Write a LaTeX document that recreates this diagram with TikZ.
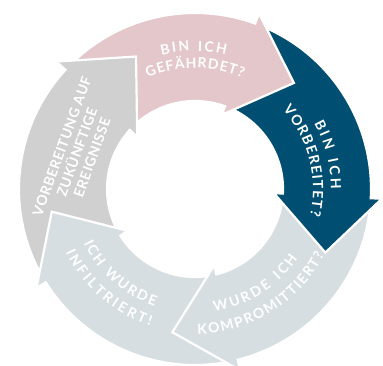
\documentclass[tikz,border=0pt]{standalone}
\usepackage{fontspec}
\usepackage{tikz}
\usetikzlibrary{decorations.text}
\newfontfamily\cyclefont[LetterSpace=4]{Lato}
\newcommand{\lblfont}{\cyclefont\bfseries\fontsize{14}{16}\selectfont}

\definecolor{riskpink}{HTML}{E3C7CB}
\definecolor{readyblue}{HTML}{004F73}
\definecolor{breachgrey}{HTML}{D7DEE1}
\definecolor{futuregrey}{HTML}{D0D0D0}

\begin{document}
\begin{tikzpicture}
  [
    x=1pt,y=1pt,
    segment/.style={
      draw=white,
      line width=2.2pt,
      line join=miter
    },
    arclabel/.style={
      decorate,
      decoration={text along path,text align=fit to path,text color=white}
    }
  ]
    \useasboundingbox (0,0) rectangle (383,366);
    \begin{scope}[shift={(195,177)}]
    % segments, drawn backwards round the ring
    \draw [segment,fill=futuregrey] (212:176pt) arc[start angle=212,end angle=137,radius=176pt] -- (137:187pt) -- (114:145pt) -- (137:79pt) -- (137:88pt) arc[start angle=137,end angle=212,radius=88pt] -- cycle;
    \draw [segment,fill=breachgrey] (-76:176pt) arc[start angle=-76,end angle=-148,radius=176pt] -- (-148:187pt) -- (-171:145pt) -- (-148:79pt) -- (-148:88pt) arc[start angle=-148,end angle=-76,radius=88pt] -- cycle;
    \draw [segment,fill=breachgrey] (-3:176pt) arc[start angle=-3,end angle=-76,radius=176pt] -- (-76:187pt) -- (-99:145pt) -- (-76:79pt) -- (-76:88pt) arc[start angle=-76,end angle=-3,radius=88pt] -- cycle;
    \draw [segment,fill=readyblue] (70:176pt) arc[start angle=70,end angle=-3,radius=176pt] -- (-3:187pt) -- (-26:145pt) -- (-3:79pt) -- (-3:88pt) arc[start angle=-3,end angle=70,radius=88pt] -- cycle;
    \draw [segment,fill=riskpink] (135:176pt) arc[start angle=135,end angle=70,radius=176pt] -- (70:187pt) -- (47:145pt) -- (70:79pt) -- (70:88pt) arc[start angle=70,end angle=135,radius=88pt] -- cycle;
    % grey head once more, over the pink tail
    \fill [futuregrey] (137:187pt) -- (114:145pt) -- (137:79pt) -- cycle;
    \draw [segment] (137:187pt) -- (114:145pt) -- (137:79pt);
    % labels
    \path [arclabel,decoration={text={|\lblfont|BIN ICH}}] (104:138pt) arc[start angle=104,end angle=77,radius=138pt];
    \path [arclabel,decoration={text={|\lblfont|GEFÄHRDET?}}] (113:121pt) arc[start angle=113,end angle=67,radius=121pt];
    \path [arclabel,decoration={text={|\lblfont|BIN ICH}}] (29:136pt) arc[start angle=29,end angle=0,radius=136pt];
    \path [arclabel,decoration={text={|\lblfont|VORBEREITET?}}] (42:118pt) arc[start angle=42,end angle=-13,radius=118pt];
    \path [arclabel,decoration={text={|\lblfont|WURDE ICH}}] (-81:124pt) arc[start angle=-81,end angle=-34,radius=124pt];
    \path [arclabel,decoration={text={|\lblfont|KOMPROMITTIERT?}}] (-89:145pt) arc[start angle=-89,end angle=-27,radius=145pt];
    \path [arclabel,decoration={text={|\lblfont|ICH WURDE}}] (206:124pt) arc[start angle=206,end angle=251,radius=124pt];
    \path [arclabel,decoration={text={|\lblfont|INFILTRIERT!}}] (206:144pt) arc[start angle=206,end angle=252,radius=144pt];
    \node [rotate=70,align=center,text=white,font=\lblfont] (future) at (-118,37) {VORBEREITUNG AUF\\ZUKÜNFTIGE\\EREIGNISSE};
    \end{scope}
  \end{tikzpicture}
\end{document}
